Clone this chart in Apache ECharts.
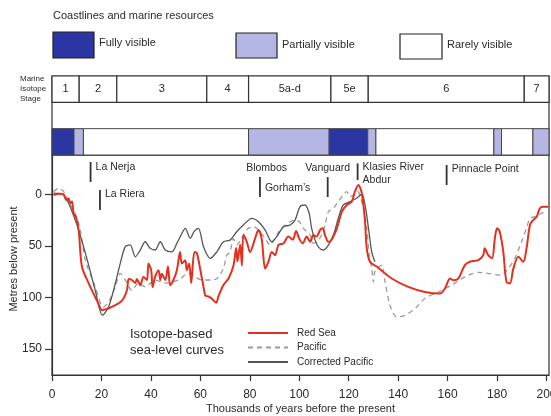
<!DOCTYPE html>
<html><head><meta charset="utf-8">
<script src="https://cdn.jsdelivr.net/npm/echarts@6/dist/echarts.min.js"></script>
<style>html,body{margin:0;padding:0;background:#fff}#c{width:551px;height:416px}</style>
</head><body><div id="c"></div>
<script>
// ---- data (ky before present, metres below present) ----
const redSea = [[0.6,0.7],[3,-0.5],[4.7,0],[5.7,5.5],[6.7,4],[7.4,8.7],[8.1,7],[8.7,18],[9.7,22],[10.8,35],[12.1,70],[14.8,86],[18.8,106],[20.2,112],[24.2,109],[28.3,103],[30.3,93],[31,82],[32.3,83],[33.7,86],[34.3,82],[35.7,88],[37,80],[38.4,83],[39,67],[40.1,73.5],[40.7,90],[41.7,80],[43.1,73.5],[43.8,83],[44.4,77],[45.8,83],[46.9,70],[47.8,88],[49.1,83],[50.5,73.5],[51.8,56],[52.5,67],[53.9,64],[54.5,73.5],[55.5,67],[56.3,86],[57.6,56],[58.6,57],[60,73.5],[61.3,90],[62,98],[63.3,99],[64.6,101],[66.4,105],[67.3,99],[69.3,88],[71.4,81.5],[73.4,69],[74.5,52],[75,65],[76.1,49],[76.8,69],[77.4,39.5],[78.8,46],[80.1,56],[82.1,43],[83.5,34.7],[84.8,43],[86.2,72],[87.5,65.4],[88.9,56],[90.2,59],[91.6,49],[93.6,47.6],[95.6,41],[97.4,44],[98.7,35.6],[100,43],[101.4,47.6],[103,41],[104.4,46],[105.7,39.5],[107,41],[108.4,34.7],[109.5,33],[110.4,39.5],[111.8,46],[113.1,44],[115.2,33],[117.2,17],[119.2,10.4],[121.2,7.2],[122.5,-2.5],[123.9,-9],[125.3,-1],[126.6,26.6],[127.3,52.4],[128.6,65.4],[131.3,70],[137.4,81.6],[144.1,89.7],[150.8,94.6],[156.9,96.2],[158.9,91.3],[161,81.6],[162.3,83.2],[164.3,81.6],[167,68.6],[169,65.4],[172.4,63.8],[174.4,59],[175,52.4],[176.4,59],[178,62],[179.1,42.7],[180,33],[181.1,36.2],[182.5,55.6],[183.8,84.8],[185.2,86.4],[186.6,71.8],[188.6,60.6],[190.6,65.4],[191.9,52.4],[193.3,29.8],[194.6,25],[196,21.7],[197.3,13.6],[198.7,12],[200.7,12]];
const pacific = [[0.6,-2.5],[2.7,-5.8],[4.7,-2.5],[7,8],[10.8,28],[13.5,63.8],[17.5,89.7],[20.8,109],[22.9,104],[25.6,89.7],[27.6,76.7],[29.6,83],[32.3,93],[35,86],[37.7,89.7],[41.7,83],[45.8,86],[51.1,83],[55.2,76.7],[60.6,83],[64.6,83],[66.7,81.6],[69.3,72],[70.7,59],[72,56],[73.4,43],[74.7,49],[77.4,39.5],[79.4,33],[81.5,31.5],[83.5,34.7],[86.2,42.7],[88.2,49.2],[90.2,42.7],[92.2,34.7],[94.3,29.8],[96.3,26.6],[98.3,25],[100,26.6],[101.7,33],[103,36.3],[104.4,39.5],[105.7,47.6],[107,46],[109.1,39.5],[110.4,29.8],[111.8,16.9],[113.8,13.6],[115.8,7.2],[117.8,0.7],[119.2,-2.5],[120.5,2.3],[121.9,0.7],[123.5,-3],[125.9,13.6],[127.3,33],[128.3,59],[129.3,72],[130,84.8],[130.6,75],[133.3,68.6],[134.7,84.8],[136.7,107.5],[139.4,118.8],[142.7,117.2],[146.8,110.7],[150.8,101],[156.2,94.6],[161.6,88],[167,80],[172.4,75.7],[176.4,76.7],[181.8,78.4],[184.5,71.8],[187.2,62],[189.9,46],[191.9,33],[193.3,23.3],[195.3,21.7],[198,18.4],[200,16.2]];
const correctedPacific = [[0.6,-1],[4.7,0.7],[9.4,25],[13.5,57],[17.5,93],[20.4,117],[22.9,109],[25.6,86.4],[27.6,67],[29.6,50.9],[31.6,49],[33.7,60.6],[35.7,54],[37.7,46],[39.7,52.4],[41.7,54],[43.8,46],[45.8,54],[48.5,55.7],[50.5,47.6],[52.5,38],[53.9,33],[55.9,42.7],[57.5,36],[59.2,33],[61.3,50.9],[64,62],[66.7,55.7],[69.3,46],[72,44.4],[74.7,36.3],[77.4,29.8],[80.8,23.3],[83.5,26.6],[86.2,34.7],[88.9,46],[90.9,41],[93.6,31.5],[96.3,29.8],[98.3,25],[100.3,12],[102.3,10.4],[104,18.4],[105,33],[106.4,44.4],[107.7,50.9],[109.7,54],[111.8,49.2],[113.8,39.5],[115.8,23.3],[117.8,10.4],[120.5,7.2],[123.2,3.9],[125.3,0],[126.6,10.4],[128,33],[129.3,55.7],[130.6,65.4]];

const stageNames = ['1','2','3','4','5a-d','5e','6','7'];
const stageBounds = [0,11.0,26.2,62.6,79.5,112.8,127.9,191.0,201];

const visibilityBounds = [0,8.9,12.7,79.5,112.1,127.7,131.0,178.7,181.8,194.5,201];
const visibilityClass = ['full','partial','rare','partial','full','partial','rare','partial','rare','partial'];

const siteNames = ['La Nerja','La Riera','Blombos','Gorham\u2019s','Vanguard','Klasies River\nAbdur','Pinnacle Point'];
const siteAges = [15.6,19.4,86.8,84.1,111.5,123.6,159.6];

const xTicks = [0,20,40,60,80,100,120,140,160,180,200];
const yTicks = [0,50,100,150];

// ---- styling ----
const FONT = 'Liberation Sans, Arial, sans-serif';
const INK = '#2a2a2a';
const visColor = {full:'#2b36a3', partial:'#b6b6e4', rare:'#ffffff'};
// marker layout: [markerTop(m), markerBottom(m) or null, labelDepth(m), mode]
const siteLayout = [
  [-31.2,-11.8,-26.3,'right'],
  [-4,15.3,0,'right'],
  [null,null,-25.3,'center'],
  [-16.6,2.7,-6,'right'],
  [-16.6,2.7,-25.3,'center'],
  [-29.9,-13.8,-26.3,'right2'],
  [-28.3,-8.9,-24.4,'right']
];

const chart = echarts.init(document.getElementById('c'), null, {renderer:'canvas'});

const stageData = stageNames.map((n,i)=>[stageBounds[i],stageBounds[i+1],0]);
const visData = visibilityClass.map((c,i)=>[visibilityBounds[i],visibilityBounds[i+1],2]);
const siteData = siteAges.map((a,i)=>[a, siteLayout[i][2]]);

const option = {
  backgroundColor:'#fff',
  animation:false,
  textStyle:{fontFamily:FONT},
  grid:[
    {left:52, top:155, width:497, height:220, show:true, borderColor:'#333', borderWidth:1.2, backgroundColor:'transparent', containLabel:false, outerBoundsMode:'none'},
    {left:52, top:76, width:497, height:79, show:true, borderColor:'#333', borderWidth:1.2, backgroundColor:'transparent', containLabel:false, outerBoundsMode:'none'}
  ],
  xAxis:[
    {type:'value', gridIndex:0, min:0, max:201,
     name:'Thousands of years before the present', nameLocation:'middle', nameGap:28, nameMoveOverlap:false,
     nameTextStyle:{fontSize:11, color:INK, fontFamily:FONT},
     axisLine:{onZero:false, lineStyle:{color:'#333', width:1.2}},
     axisTick:{length:6, customValues:xTicks, lineStyle:{color:'#333', width:1.2}},
     axisLabel:{customValues:xTicks, margin:14, fontSize:12, color:INK, fontFamily:FONT},
     splitLine:{show:false}},
    {type:'value', gridIndex:1, min:0, max:201, show:false}
  ],
  yAxis:[
    {type:'value', gridIndex:0, min:-38, max:175, inverse:true,
     name:'Metres below present', nameLocation:'middle', nameGap:33, nameMoveOverlap:false,
     nameTextStyle:{fontSize:11, color:INK, fontFamily:FONT, padding:[0,0,0,12]},
     axisLine:{show:true, onZero:false, lineStyle:{color:'#333', width:1.2}},
     axisTick:{show:true, length:7, customValues:yTicks, lineStyle:{color:'#333', width:1.2}},
     axisLabel:{customValues:yTicks, margin:10, fontSize:12, color:INK, fontFamily:FONT},
     splitLine:{show:false}},
    {type:'value', gridIndex:1, min:0, max:3, inverse:true, show:false}
  ],
  legend:{
    left:242, top:323, orient:'vertical', itemWidth:40, itemHeight:10, itemGap:4.5,
    data:['Red Sea','Pacific','Corrected Pacific'],
    itemStyle:{opacity:0},
    textStyle:{fontSize:10, color:INK, fontFamily:FONT, padding:[0,0,0,4]}
  },
  graphic:[
    {type:'text', left:53, top:10, style:{text:'Coastlines and marine resources', font:'11px '+FONT, fill:INK}},
    {type:'rect', shape:{x:53,y:32,width:41,height:26}, style:{fill:visColor.full, stroke:'#222', lineWidth:1.2}},
    {type:'text', left:99, top:37, style:{text:'Fully visible', font:'11px '+FONT, fill:INK}},
    {type:'rect', shape:{x:236,y:33,width:41,height:25}, style:{fill:visColor.partial, stroke:'#222', lineWidth:1.2}},
    {type:'text', left:282, top:39, style:{text:'Partially visible', font:'11px '+FONT, fill:INK}},
    {type:'rect', shape:{x:400,y:34,width:42,height:25}, style:{fill:'#fff', stroke:'#222', lineWidth:1.2}},
    {type:'text', left:447, top:39, style:{text:'Rarely visible', font:'11px '+FONT, fill:INK}},
    {type:'text', left:20, top:74, style:{text:'Marine\nIsotope\nStage', font:'8px '+FONT, lineHeight:10, fill:INK}},
    {type:'text', left:130, top:326, style:{text:'Isotope-based\nsea-level curves', font:'13px '+FONT, lineHeight:16, fill:INK}}
  ],
  series:[
    {type:'custom', name:'stages', xAxisIndex:1, yAxisIndex:1, data:stageData, silent:true,
     renderItem:function(params, api){
       const p0 = api.coord([api.value(0), api.value(2)]);
       const p1 = api.coord([api.value(1), api.value(2)+1]);
       return {type:'group', children:[
         {type:'rect', shape:{x:p0[0], y:p0[1], width:p1[0]-p0[0], height:p1[1]-p0[1]}, style:{fill:'#fff', stroke:'#333', lineWidth:1.2}},
         {type:'text', x:(p0[0]+p1[0])/2, y:(p0[1]+p1[1])/2, style:{text:stageNames[params.dataIndex], font:'11px '+FONT, fill:INK, align:'center', verticalAlign:'middle'}}
       ]};
     }},
    {type:'custom', name:'visibility', xAxisIndex:1, yAxisIndex:1, data:visData, silent:true,
     renderItem:function(params, api){
       const p0 = api.coord([api.value(0), api.value(2)]);
       const p1 = api.coord([api.value(1), api.value(2)+1]);
       return {type:'rect', shape:{x:p0[0], y:p0[1], width:p1[0]-p0[0], height:p1[1]-p0[1]}, style:{fill:visColor[visibilityClass[params.dataIndex]], stroke:'#444', lineWidth:1}};
     }},
    {type:'custom', name:'sites', xAxisIndex:0, yAxisIndex:0, data:siteData, silent:true, clip:false, z:5,
     renderItem:function(params, api){
       const i = params.dataIndex;
       const L = siteLayout[i];
       const base = api.coord([api.value(0), api.value(1)]);
       const children = [];
       if (L[0] !== null) {
         const a = api.coord([api.value(0), L[0]]);
         const b = api.coord([api.value(0), L[1]]);
         children.push({type:'line', shape:{x1:a[0], y1:a[1], x2:b[0], y2:b[1]}, style:{stroke:'#333', lineWidth:1.8}});
       }
       const mode = L[3];
       if (mode === 'center') {
         children.push({type:'text', x:base[0], y:base[1], style:{text:siteNames[i], font:'10.5px '+FONT, fill:INK, align:'center', verticalAlign:'middle'}});
       } else if (mode === 'right2') {
         children.push({type:'text', x:base[0]+5, y:base[1]-6, style:{text:siteNames[i], font:'10.5px '+FONT, fill:INK, align:'left', verticalAlign:'top', lineHeight:13}});
       } else {
         children.push({type:'text', x:base[0]+5, y:base[1], style:{text:siteNames[i], font:'10.5px '+FONT, fill:INK, align:'left', verticalAlign:'middle'}});
       }
       return {type:'group', children:children};
     }},
    {type:'line', name:'Pacific', xAxisIndex:0, yAxisIndex:0, data:pacific, smooth:0.3, symbol:'none', z:3,
     lineStyle:{color:'#9a9a9a', width:1.3, type:[5,4]}, itemStyle:{color:'#9a9a9a'}},
    {type:'line', name:'Corrected Pacific', xAxisIndex:0, yAxisIndex:0, data:correctedPacific, smooth:0.3, symbol:'none', z:3,
     lineStyle:{color:'#555', width:1.3}, itemStyle:{color:'#555'}},
    {type:'line', name:'Red Sea', xAxisIndex:0, yAxisIndex:0, data:redSea, smooth:0.3, symbol:'none', z:4,
     lineStyle:{color:'#e3301f', width:2}, itemStyle:{color:'#e3301f'}}
  ]
};
chart.setOption(option);
</script></body></html>
